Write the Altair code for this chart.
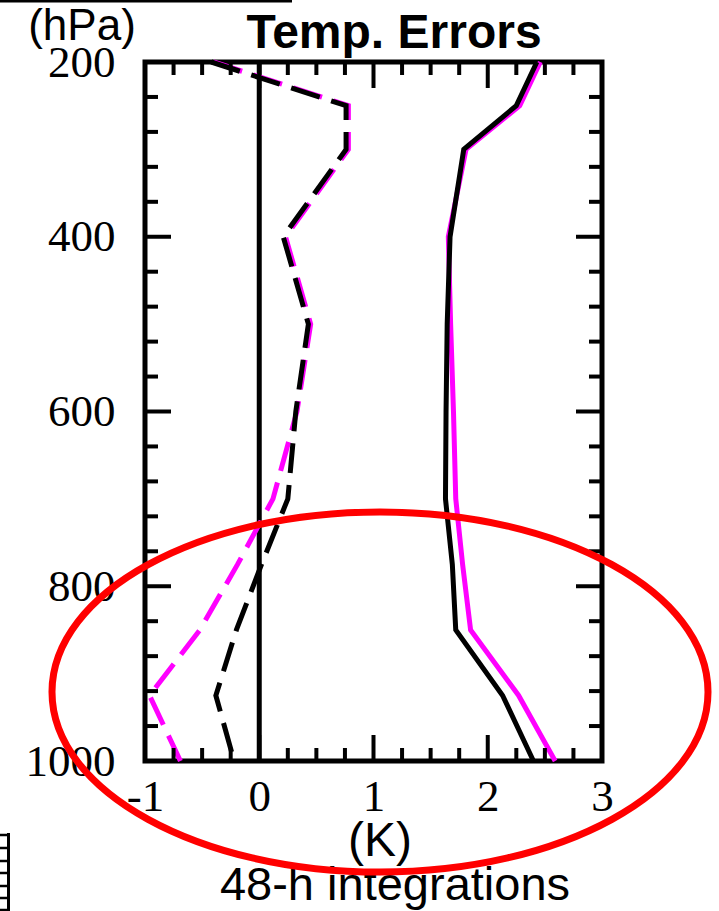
import altair as alt
import pandas as pd

# ---------------- data ----------------
levels = [200, 250, 300, 400, 500, 600, 700, 775, 850, 925, 1000]
bias_black = [-0.42, 0.76, 0.76, 0.21, 0.43, 0.32, 0.25, 0.02, -0.20, -0.38, -0.22]
bias_magenta = [-0.40, 0.78, 0.78, 0.23, 0.45, 0.33, 0.12, -0.19, -0.52, -0.96, -0.69]
rmse_black = [2.43, 2.25, 1.79, 1.67, 1.645, 1.635, 1.63, 1.69, 1.72, 2.13, 2.40]
rmse_magenta = [2.46, 2.28, 1.81, 1.655, 1.675, 1.70, 1.72, 1.78, 1.85, 2.27, 2.59]

x_major = [-1, 0, 1, 2, 3]
x_minor = [-0.75, -0.5, -0.25, 0.25, 0.5, 0.75, 1.25, 1.5, 1.75,
           2.25, 2.5, 2.75]
y_major = [200, 400, 600, 800, 1000]
y_minor = [240, 280, 320, 360, 440, 480, 520, 560, 640, 680, 720, 760,
           840, 880, 920, 960]

title_text = "Temp. Errors"
y_unit = "(hPa)"
x_unit = "(K)"
caption = "48-h integrations"

# ---------------- layout ----------------
W, H = 457, 699
MAJ, MIN = 26, 13

xs = alt.Scale(domain=[-1, 3], nice=False, zero=False)
ys = alt.Scale(domain=[200, 1000], reverse=True, nice=False, zero=False)

xaxis = alt.Axis(values=x_major, labelExpr="'' + datum.value",
                 labelFont="Liberation Serif", labelFontSize=45,
                 labelColor="black", labelPadding=49,
                 labelBaseline="alphabetic", domain=False, ticks=False,
                 tickSize=0, grid=False, title=None, labelFlush=False,
                 labelOverlap=False)
yaxis = alt.Axis(values=y_major, labelExpr="'' + datum.value",
                 labelFont="Liberation Serif",
                 labelFontSize=45, labelColor="black", labelPadding=30,
                 domain=False, ticks=False, tickSize=0, grid=False,
                 title=None, labelFlush=False, labelOverlap=False)


def X(f):
    return alt.X(f, type="quantitative", scale=xs, axis=xaxis, title=None)


def Y(f):
    return alt.Y(f, type="quantitative", scale=ys, axis=yaxis, title=None)


def series(vals, color, dashed):
    df = pd.DataFrame({"p": levels, "v": vals})
    kw = dict(color=color, strokeWidth=5)
    if dashed:
        kw["strokeDash"] = [30, 12]
    return alt.Chart(df).mark_line(**kw).encode(
        x=X("v"), y=Y("p"), order=alt.Order("p:Q"))


dummy = pd.DataFrame({"a": [0]})
layers = []

# zero line
layers.append(alt.Chart(pd.DataFrame({"v": [0]})).mark_rule(
    color="black", strokeWidth=5).encode(x=X("v")))

# data lines (magenta under black)
layers.append(series(bias_magenta, "#ff00ff", True))
layers.append(series(bias_black, "black", True))
layers.append(series(rmse_magenta, "#ff00ff", False))
layers.append(series(rmse_black, "black", False))

# inward ticks
ymaj = pd.DataFrame({"p": y_major})
ymin = pd.DataFrame({"p": y_minor})
xmaj = pd.DataFrame({"v": x_major})
xmin = pd.DataFrame({"v": x_minor})
for df, L in [(ymaj, MAJ), (ymin, MIN)]:
    layers.append(alt.Chart(df).mark_rule(color="black", strokeWidth=4).encode(
        y=Y("p"), x=alt.value(0), x2=alt.value(L)))
    layers.append(alt.Chart(df).mark_rule(color="black", strokeWidth=4).encode(
        y=Y("p"), x=alt.value(W), x2=alt.value(W - L)))
for df, L in [(xmaj, MAJ), (xmin, MIN)]:
    layers.append(alt.Chart(df).mark_rule(color="black", strokeWidth=4).encode(
        x=X("v"), y=alt.value(0), y2=alt.value(L)))
    layers.append(alt.Chart(df).mark_rule(color="black", strokeWidth=4).encode(
        x=X("v"), y=alt.value(H), y2=alt.value(H - L)))

# texts
def txt(t, x, y, size, bold=False):
    return alt.Chart(dummy).mark_text(
        text=t, font="Liberation Sans", fontSize=size,
        fontWeight="bold" if bold else "normal", align="center",
        baseline="alphabetic", color="black").encode(
        x=alt.value(x), y=alt.value(y))


layers.append(txt(title_text, 249, -14, 48, True))
layers.append(txt(y_unit, -63, -22, 44))
layers.append(txt(x_unit, 235, 794, 48))
layers.append(txt(caption, 250, 838, 47))

# top-left rule
layers.append(alt.Chart(dummy).mark_rule(color="black", strokeWidth=3).encode(
    x=alt.value(-145), x2=alt.value(147), y=alt.value(-61)))

# small cropped grid glyph bottom-left
layers.append(alt.Chart(dummy).mark_rule(color="black", strokeWidth=3).encode(
    x=alt.value(-136.5), y=alt.value(771), y2=alt.value(850)))
for yy in [773, 786, 799, 811, 824, 836, 848]:
    layers.append(alt.Chart(dummy).mark_rule(color="black", strokeWidth=2.5).encode(
        x=alt.value(-146), x2=alt.value(-135), y=alt.value(yy)))

# red ellipse annotation
ellipse = "M-1,0A1,0.549,0,1,0,1,0A1,0.549,0,1,0,-1,0Z"
layers.append(alt.Chart(dummy).mark_point(
    shape=ellipse, size=(2 * 328) ** 2, filled=False, stroke="red",
    strokeWidth=7, opacity=1).encode(x=alt.value(235), y=alt.value(630)))

chart = alt.layer(*layers).properties(
    width=W, height=H,
    autosize=alt.AutoSizeParams(type="none"),
    padding={"left": 145, "top": 62, "right": 117, "bottom": 150},
    background="white",
).configure_view(stroke="black", strokeWidth=5)

chart.save("out.html", embed_options={"renderer": "svg", "actions": False})
